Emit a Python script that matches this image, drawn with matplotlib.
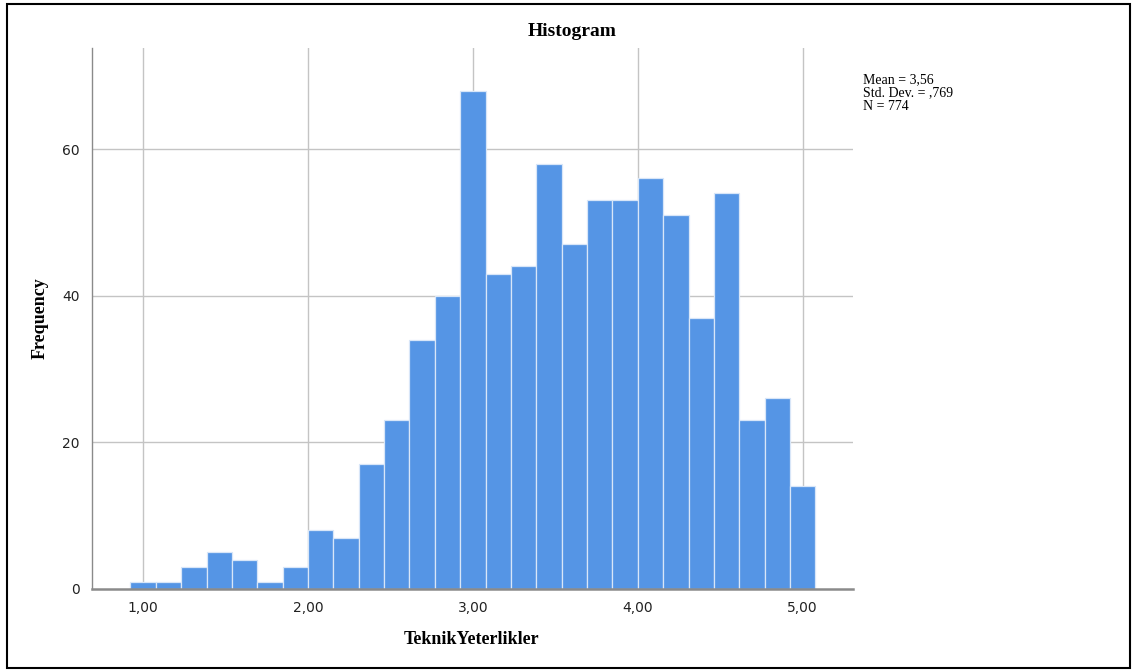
import matplotlib
matplotlib.use("Agg")
import matplotlib.pyplot as plt
import numpy as np
from matplotlib.patches import Rectangle

# Data
bin_start = 0.923
bin_end = 5.077
counts = [1, 1, 3, 5, 4, 1, 3, 8, 7, 17, 23, 34, 40, 68, 43, 44, 58, 47,
          53, 53, 56, 51, 37, 54, 23, 26, 14]
x_ticks = [1, 2, 3, 4, 5]
x_tick_labels = ["1,00", "2,00", "3,00", "4,00", "5,00"]
y_ticks = [0, 20, 40, 60]
stats_text = "Mean = 3,56\nStd. Dev. = ,769\nN = 774"

edges = np.linspace(bin_start, bin_end, len(counts) + 1)

W, H = 1134, 670
fig = plt.figure(figsize=(W / 100, H / 100), dpi=100)
ax = fig.add_axes([92 / W, 1 - 589 / H, (853 - 92) / W, (589 - 48) / H])

ax.set_xlim(0.69, 5.305)
ax.set_ylim(0, 73.8)

for x in x_ticks:
    ax.axvline(x, color="#c4c4c4", lw=1.0, zorder=0)
for y in y_ticks[1:]:
    ax.axhline(y, color="#c4c4c4", lw=1.0, zorder=0)

ax.bar(edges[:-1], counts, width=np.diff(edges), align="edge",
       color="#5595E5", edgecolor="#d8e6f8", linewidth=0.9, zorder=2)

for s in ["top", "right"]:
    ax.spines[s].set_visible(False)
ax.spines["left"].set_color("#8a8a8a")
ax.spines["bottom"].set_color("#8a8a8a")
ax.spines["bottom"].set_linewidth(1.8)
ax.spines["left"].set_linewidth(1.0)

ax.set_xticks(x_ticks)
ax.set_xticklabels(x_tick_labels, fontsize=10, family="DejaVu Sans", color="#222222")
ax.set_yticks(y_ticks)
ax.set_yticklabels([str(v) for v in y_ticks], fontsize=10, family="DejaVu Sans", color="#222222")
ax.tick_params(axis="both", length=0, pad=9)

fig.text(572 / W, 1 - 32 / H, "Histogram", ha="center", va="center",
         fontsize=14, fontweight="bold", family="Liberation Serif")
fig.text(40 / W, 1 - 318 / H, "Frequency", ha="center", va="center", rotation=90,
         fontsize=13, fontweight="bold", family="Liberation Serif")
fig.text(472 / W, 1 - 640 / H, "TeknikYeterlikler", ha="center", va="center",
         fontsize=13, fontweight="bold", family="Liberation Serif")
fig.text(863 / W, 1 - 73 / H, stats_text, ha="left", va="top",
         fontsize=10, family="Liberation Serif", linespacing=1.05)

fig.patches.append(Rectangle((7 / W, 1 - 668 / H), (1130 - 7) / W, (668 - 4) / H,
                             transform=fig.transFigure, fill=False,
                             edgecolor="black", lw=1.5))

fig.savefig("out.png", dpi=100)
